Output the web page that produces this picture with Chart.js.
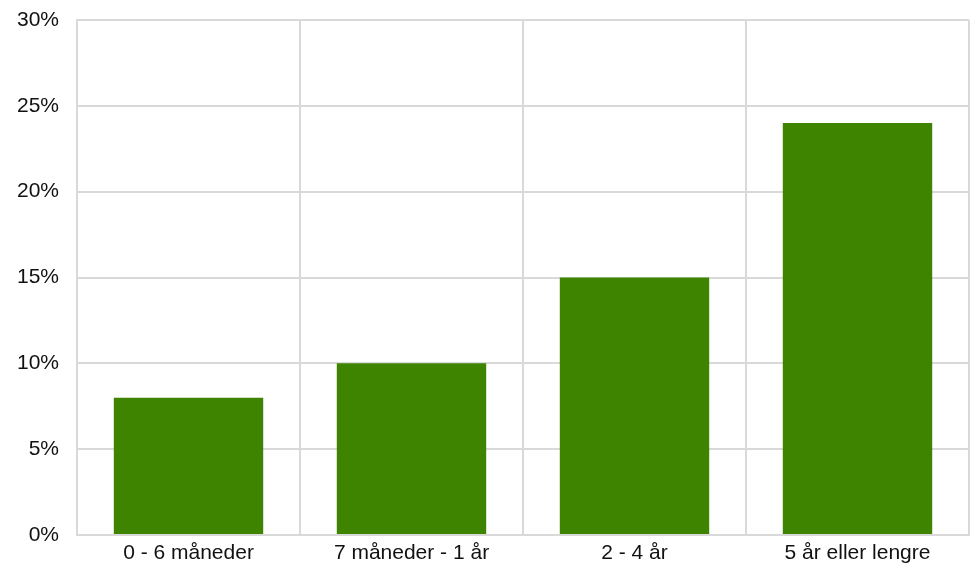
<!DOCTYPE html>
<html>
<head>
<meta charset="utf-8">
<script src="https://cdn.jsdelivr.net/npm/chart.js@4"></script>
<style>
  html, body { margin: 0; padding: 0; background: #ffffff; overflow: hidden; }
  #chart { display: block; }
</style>
</head>
<body>
<canvas id="chart" width="971" height="563"></canvas>
<script>
const categories = ["0 - 6 måneder", "7 måneder - 1 år", "2 - 4 år", "5 år eller lengre"];
const shares = [8, 10, 15, 24];
const yTicks = [0, 5, 10, 15, 20, 25, 30];

const gridColor = "#d9d9d9";
const barColor = "#3e8400";

Chart.defaults.font.family = "'Liberation Sans', Arial, sans-serif";
Chart.defaults.font.size = 21;
Chart.defaults.color = "#111111";

new Chart(document.getElementById("chart"), {
  type: "bar",
  data: {
    labels: categories,
    datasets: [
      {
        data: shares,
        backgroundColor: barColor,
        borderWidth: 0,
        categoryPercentage: 0.67,
        barPercentage: 1,
      },
    ],
  },
  options: {
    responsive: false,
    animation: false,
    layout: { padding: { top: 20, right: 2, left: 0, bottom: 0 } },
    plugins: {
      legend: { display: false },
      tooltip: { enabled: false },
    },
    scales: {
      x: {
        grid: { color: gridColor, lineWidth: 2, drawTicks: false, offset: true },
        border: { color: gridColor, width: 2 },
        ticks: { padding: 6, maxRotation: 0 },
        afterFit: (scale) => {
          scale.height = 28;
          scale.paddingLeft = 0;
          scale.paddingRight = 0;
        },
      },
      y: {
        min: 0,
        max: 30,
        afterBuildTicks: (scale) => { scale.ticks = yTicks.map((v) => ({ value: v })); },
        grid: { color: gridColor, lineWidth: 2, drawTicks: false },
        border: { color: gridColor, width: 2 },
        ticks: { padding: 18, callback: (v) => `${v}%` },
        afterFit: (scale) => {
          scale.width = 77;
          scale.paddingTop = 0;
          scale.paddingBottom = 0;
        },
      },
    },
  },
});
</script>
</body>
</html>
